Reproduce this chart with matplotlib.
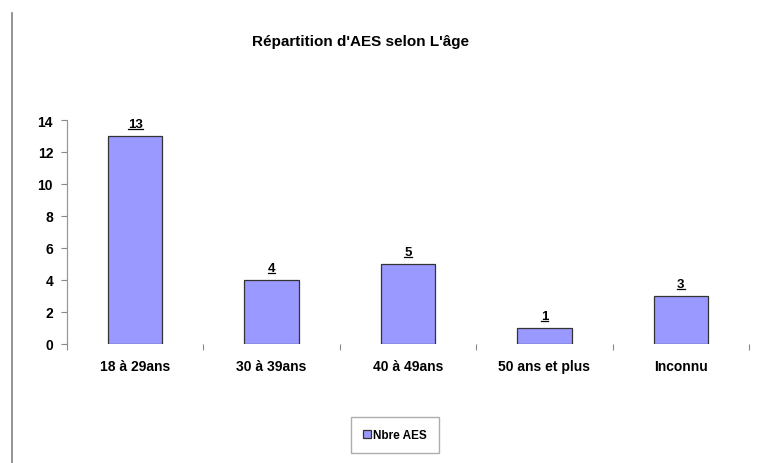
import matplotlib
matplotlib.use("Agg")
import matplotlib.pyplot as plt
import numpy as np
from matplotlib.lines import Line2D

categories = ["18 à 29ans", "30 à 39ans", "40 à 49ans", "50 ans et plus", "Inconnu"]
values = [13, 4, 5, 1, 3]
yticks = [0, 2, 4, 6, 8, 10, 12, 14]
title = "Répartition d'AES selon L'âge"
series_name = "Nbre AES"

plt.rcParams['font.family'] = ['Liberation Sans', 'DejaVu Sans']

W, H = 760, 464
fig = plt.figure(figsize=(W / 100, H / 100), dpi=100)
fig.patch.set_facecolor('white')

ax = fig.add_axes([67 / W, 1 - 345 / H, (749 - 67) / W, (345 - 121) / H])
x = np.arange(len(categories))
bars = ax.bar(x, values, width=0.40, color='#9999FF', edgecolor='#333333',
              linewidth=0.9, label=series_name, zorder=3)

ax.set_xlim(-0.5, len(categories) - 0.5)
ax.set_ylim(0, 14)
ax.set_yticks(yticks)
ax.set_yticklabels([str(v) for v in yticks], fontsize=10, fontweight='bold')
ax.set_xticks(x)
ax.set_xticklabels(categories, fontsize=10, fontweight='bold')
ax.set_xticks(np.arange(len(categories) + 1) - 0.5, minor=True)
ax.tick_params(axis='x', which='major', length=0, pad=11)
ax.tick_params(axis='x', which='minor', length=4, color='#888888', direction='out', width=0.8)
ax.tick_params(axis='y', length=4, color='#888888', direction='out', width=0.8, pad=6)

for s in ['top', 'right', 'bottom']:
    ax.spines[s].set_visible(False)
ax.spines['left'].set_color('#999999')
ax.spines['left'].set_linewidth(0.9)

labels = ax.bar_label(bars, labels=[str(v) for v in values], padding=4,
                      fontsize=9.5, fontweight='bold')

fig.text(361 / W, 1 - 42 / H, title, ha='center', va='center',
         fontsize=11, fontweight='bold')

# left border of the chart area
fig.add_artist(Line2D([12 / W, 12 / W], [0, 1 - 14 / H], transform=fig.transFigure,
                      color='#808080', linewidth=1.2))

leg = fig.legend(handles=[bars], labels=[series_name], loc='center',
                 bbox_to_anchor=(395 / W, 1 - 436 / H), frameon=True, fancybox=False,
                 prop={'size': 8.5, 'weight': 'bold'}, handlelength=0.7, handleheight=0.7,
                 handletextpad=0.15, borderpad=1.0, borderaxespad=0)
leg.get_frame().set_edgecolor('#999999')
leg.get_frame().set_linewidth(1.0)

# underline value labels
fig.canvas.draw()
r = fig.canvas.get_renderer()
inv = fig.transFigure.inverted()
for t in labels:
    bb = t.get_window_extent(renderer=r)
    (x0, y0), (x1, y1) = inv.transform([[bb.x0, bb.y0], [bb.x1, bb.y1]])
    yy = y0 + 1.0 / H
    fig.add_artist(Line2D([x0, x1], [yy, yy], transform=fig.transFigure,
                          color='black', linewidth=0.9))

fig.savefig("out.png", dpi=100, facecolor='white')
